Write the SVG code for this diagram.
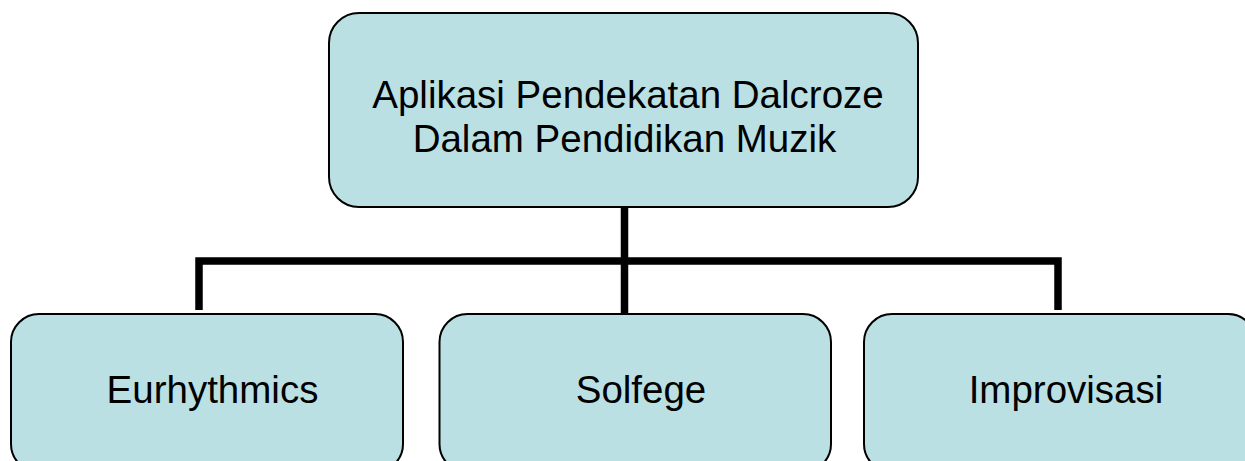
<svg xmlns="http://www.w3.org/2000/svg" width="1245" height="461" viewBox="0 0 1245 461">
<style>
.box{fill:#BBE0E3;stroke:#000;stroke-width:2}
.lbl{font-family:"Liberation Sans",Arial,sans-serif;font-size:38.5px;fill:#000;text-anchor:middle}
.conn{fill:none;stroke:#000;stroke-width:7.5;stroke-linejoin:miter;stroke-linecap:butt}
</style>
<rect width="1245" height="461" fill="#fff"/>
<g id="connectors">
<polyline class="conn" points="199,310 199,261 1058,261 1058,310"/>
<line class="conn" x1="624.5" y1="207" x2="624.5" y2="315"/>
</g>
<g id="root">
<rect class="box" x="329" y="13" width="589" height="194" rx="30" ry="30"/>
<text class="lbl" x="628" y="108">Aplikasi Pendekatan Dalcroze</text>
<text class="lbl" x="624.5" y="152">Dalam Pendidikan Muzik</text>
</g>
<g id="eurhythmics">
<rect class="box" x="11" y="314" width="392" height="158" rx="28" ry="28"/>
<text class="lbl" x="212.5" y="403">Eurhythmics</text>
</g>
<g id="solfege">
<rect class="box" x="439.5" y="314" width="391.5" height="158" rx="28" ry="28"/>
<text class="lbl" x="641" y="403">Solfege</text>
</g>
<g id="improvisasi">
<rect class="box" x="864" y="314" width="392" height="158" rx="28" ry="28"/>
<text class="lbl" x="1066" y="403">Improvisasi</text>
</g>
</svg>
